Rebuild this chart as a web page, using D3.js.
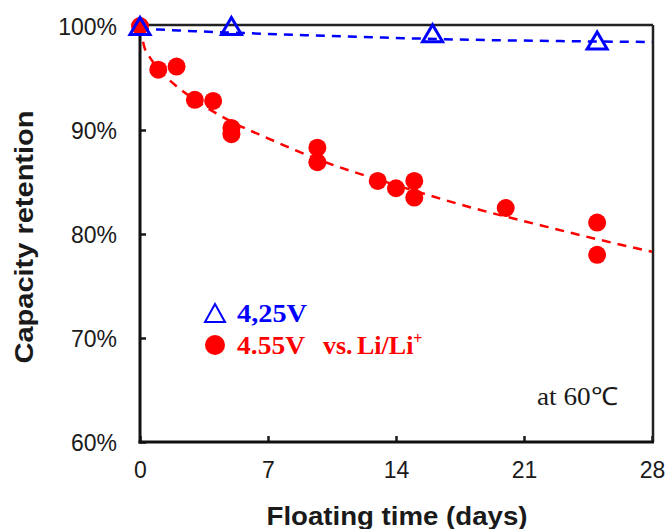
<!DOCTYPE html>
<html>
<head>
<meta charset="utf-8">
<script src="https://cdn.jsdelivr.net/npm/d3@7"></script>
<style>
  html, body { margin: 0; padding: 0; background: #fff; }
  svg { display: block; }
</style>
</head>
<body>
<svg id="chart" width="668" height="529"></svg>
<script>
// ---- data ----
const xTicks = [0, 7, 14, 21, 28];
const yTicks = [60, 70, 80, 90, 100];

const redDays = [0, 1, 2, 3, 4, 5, 5, 9.7, 9.7, 13, 14, 15, 15, 20, 25, 25];
const redVals = [100, 95.8, 96.1, 92.9, 92.8, 90.2, 89.6, 88.3, 86.9, 85.1, 84.4, 85.1, 83.5, 82.5, 81.1, 78.0];

const blueDays = [0, 5, 16, 25];
const blueVals = [100, 100, 99.3, 98.6];

// trend lines
const redFitDays = [0, 0.25, 0.5, 1, 2, 3, 5, 7, 10, 14, 18, 22, 25, 28];
const redFitVals = [100, 97.9, 97.1, 95.9, 94.2, 92.9, 90.8, 89.2, 87.0, 84.7, 82.6, 80.8, 79.5, 78.3];
const blueFitDays = [0, 1, 3, 6, 9, 13, 18, 23, 28];
const blueFitVals = [99.72, 99.66, 99.5, 99.3, 99.12, 98.9, 98.68, 98.55, 98.46];

const xLabel = "Floating time (days)";
const yLabel = "Capacity retention";
const legend1 = "4,25V";
const legend2 = "4.55V";
const legend2b = "vs.";
const legend2c = "Li/Li";
const note = "at 60\u2103";

// ---- layout ----
const svg = d3.select("#chart");
const L = 140, R = 652, T = 26, B = 442;
const x = d3.scaleLinear().domain([0, 28]).range([L, R]);
const y = d3.scaleLinear().domain([60, 100]).range([B, T]);

const RED = "#ff0000", BLUE = "#0000ff", INK = "#1a1a1a";

// axes
const yAxis = d3.axisLeft(y).tickValues(yTicks).tickSize(-6).tickPadding(23)
  .tickFormat(d => d + "%");
const gy = svg.append("g").attr("transform", `translate(${L},0)`).call(yAxis);
gy.select(".domain").remove();
gy.selectAll("line").attr("stroke", INK).attr("stroke-width", 2.5);
gy.selectAll("text").attr("font-family", "'Liberation Sans', Arial, sans-serif")
  .attr("font-size", 23).attr("fill", INK).attr("dy", "0.36em");

const xAxis = d3.axisBottom(x).tickValues(xTicks).tickSize(-6).tickPadding(20);
const gx = svg.append("g").attr("transform", `translate(0,${B})`).call(xAxis);
gx.select(".domain").remove();
gx.selectAll("line").attr("stroke", INK).attr("stroke-width", 2.5);
gx.selectAll("text").attr("font-family", "'Liberation Sans', Arial, sans-serif")
  .attr("font-size", 23).attr("fill", INK);

// frame
svg.append("line").attr("x1", L).attr("x2", R + 1).attr("y1", T - 1).attr("y2", T - 1)
  .attr("stroke", "#222").attr("stroke-width", 2.5);
svg.append("line").attr("x1", R + 1).attr("x2", R + 1).attr("y1", T - 1).attr("y2", B)
  .attr("stroke", "#222").attr("stroke-width", 2.5);
svg.append("line").attr("x1", L).attr("x2", L).attr("y1", T - 2).attr("y2", B + 1.5)
  .attr("stroke", "#111").attr("stroke-width", 3);
svg.append("line").attr("x1", L - 1.5).attr("x2", R + 2).attr("y1", B).attr("y2", B)
  .attr("stroke", "#111").attr("stroke-width", 3);

// trend lines
const lineGen = d3.line().x(d => x(d[0])).y(d => y(d[1])).curve(d3.curveMonotoneX);
svg.append("path").datum(redFitDays.map((d, i) => [d, redFitVals[i]]))
  .attr("d", lineGen).attr("fill", "none").attr("stroke", RED)
  .attr("stroke-width", 2.5).attr("stroke-dasharray", "9,7");
svg.append("path").datum(blueFitDays.map((d, i) => [d, blueFitVals[i]]))
  .attr("d", lineGen).attr("fill", "none").attr("stroke", BLUE)
  .attr("stroke-width", 2.5).attr("stroke-dasharray", "9,7");

// red circles
svg.append("g").selectAll("circle")
  .data(redDays.map((d, i) => [d, redVals[i]]))
  .join("circle")
  .attr("cx", d => x(d[0])).attr("cy", d => y(d[1])).attr("r", 9)
  .attr("fill", RED);

// blue open triangles
const tri = "M0,-8.5L10,8.5L-10,8.5Z";
svg.append("g").selectAll("path")
  .data(blueDays.map((d, i) => [d, blueVals[i]]))
  .join("path")
  .attr("transform", d => `translate(${x(d[0])},${y(d[1])})`)
  .attr("d", tri).attr("fill", "none").attr("stroke", BLUE)
  .attr("stroke-width", 3).attr("stroke-linejoin", "miter");

// axis titles
svg.append("text").attr("x", 397).attr("y", 525).attr("text-anchor", "middle")
  .attr("font-family", "'Liberation Sans', Arial, sans-serif").attr("font-weight", "bold")
  .attr("font-size", 25).attr("fill", INK)
  .attr("textLength", 261).attr("lengthAdjust", "spacingAndGlyphs")
  .text(xLabel);

svg.append("text").attr("transform", "translate(33,237) rotate(-90)")
  .attr("text-anchor", "middle")
  .attr("font-family", "'Liberation Sans', Arial, sans-serif").attr("font-weight", "bold")
  .attr("font-size", 25).attr("fill", INK)
  .attr("textLength", 253).attr("lengthAdjust", "spacingAndGlyphs")
  .text(yLabel);

// legend
const serif = "'Liberation Serif', 'Times New Roman', serif";
svg.append("path").attr("transform", "translate(215,313)")
  .attr("d", "M0,-9L10,9L-10,9Z").attr("fill", "none").attr("stroke", BLUE).attr("stroke-width", 2);
svg.append("text").attr("x", 237).attr("y", 322)
  .attr("font-family", serif).attr("font-weight", "bold").attr("font-size", 26)
  .attr("fill", BLUE).attr("textLength", 70).attr("lengthAdjust", "spacingAndGlyphs")
  .text(legend1);

svg.append("circle").attr("cx", 215).attr("cy", 345).attr("r", 10).attr("fill", RED);
const lt = svg.append("text").attr("y", 354)
  .attr("font-family", serif).attr("font-weight", "bold").attr("font-size", 26).attr("fill", RED);
lt.append("tspan").attr("x", 237).attr("textLength", 68).attr("lengthAdjust", "spacingAndGlyphs").text(legend2);
lt.append("tspan").attr("x", 323).text(legend2b);
lt.append("tspan").attr("x", 357).text(legend2c);
lt.append("tspan").attr("font-size", 16).attr("dy", -10).text("+");

// note
svg.append("text").attr("x", 537).attr("y", 405)
  .attr("font-family", serif).attr("font-size", 25).attr("fill", INK)
  .attr("textLength", 81).attr("lengthAdjust", "spacingAndGlyphs")
  .text(note);
</script>
</body>
</html>
